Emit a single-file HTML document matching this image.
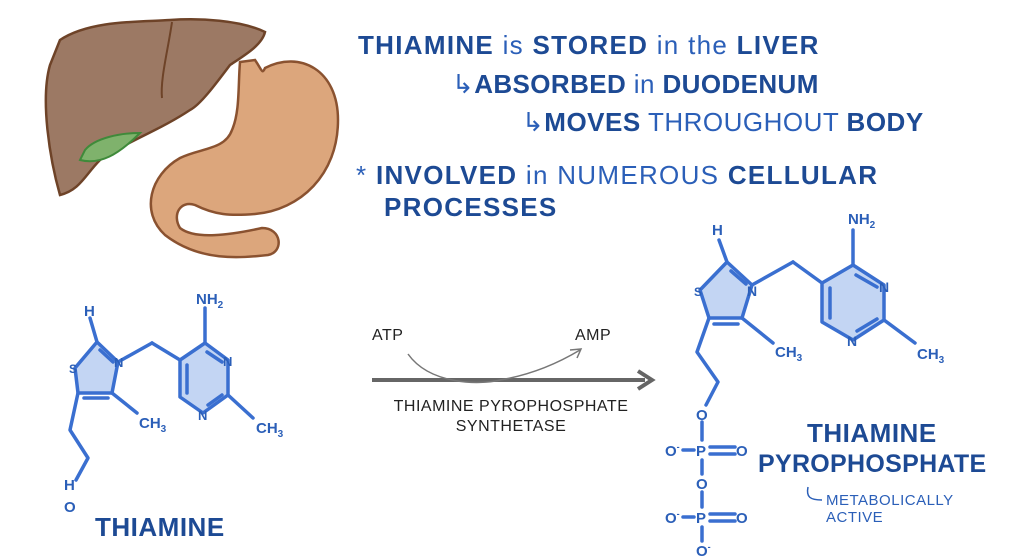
<!DOCTYPE html>
<html><head><meta charset="utf-8"><style>
html,body{margin:0;padding:0;background:#fff;}
body{width:1024px;height:560px;overflow:hidden;position:relative;font-family:"Liberation Sans",sans-serif;}
.t{position:absolute;white-space:nowrap;color:#2b5fb8;font-size:26px;letter-spacing:1.3px;}
.b{font-weight:bold;color:#1d4a94;}
</style></head><body>
<svg width="1024" height="560" style="position:absolute;left:0;top:0">
<path d="M240,62 L255,60 C262,70 262,75 265,68 C300,50 338,70 338,120 C338,175 300,210 255,214 C230,216 215,215 195,205 C180,200 172,215 180,228 C195,240 230,235 262,228 C282,228 284,252 268,255 C240,258 200,262 165,235 C140,212 150,175 180,158 C200,148 225,150 232,130 C240,112 238,85 240,62 Z" fill="#dca67c" stroke="#8a5230" stroke-width="2.5"/>
<path d="M60,40 C90,20 140,22 170,20 C200,18 240,20 265,32 C262,45 245,55 230,65 C215,85 200,105 190,110 C160,130 130,140 100,160 C85,175 80,190 60,195 C50,160 40,100 50,65 Z" fill="#9c7964" stroke="#6e4328" stroke-width="2.5"/>
<path d="M172,22 C168,50 160,80 162,98" fill="none" stroke="#6e4328" stroke-width="2"/>
<path d="M85,150 C95,138 120,133 140,133 C118,155 100,165 80,160 Z" fill="#7fb26c" stroke="#3f8a3a" stroke-width="2"/>
<line x1="372" y1="380" x2="645" y2="380" stroke="#666" stroke-width="4"/>
<path d="M638,371 L652,380 L638,389" fill="none" stroke="#666" stroke-width="4"/>
<path d="M408,354 C430,385 480,385 500,380 C530,375 555,365 580,350" fill="none" stroke="#777" stroke-width="1.5"/>
<path d="M570,350 L581,349 L577,358" fill="none" stroke="#777" stroke-width="1.5"/>
<g stroke="#3a6fd0" stroke-width="3.5" fill="none" stroke-linecap="round" stroke-linejoin="round">
<polygon points="75,368 97,342 118,362 112,393 78,393" fill="#c3d5f3"/>
<polygon points="180,360 205,343 228,360 228,395 203,413 180,397" fill="#c3d5f3"/>
<line x1="97" y1="342" x2="90" y2="318"/>
<line x1="118" y1="362" x2="152" y2="343"/><line x1="152" y1="343" x2="180" y2="360"/>
<line x1="205" y1="343" x2="205" y2="308"/>
<line x1="112" y1="393" x2="137" y2="413"/>
<line x1="228" y1="395" x2="253" y2="418"/>
<polyline points="78,393 70,430 88,458 76,480"/>
<line x1="84" y1="398" x2="108" y2="398"/><line x1="100" y1="350" x2="113" y2="362"/>
<line x1="187" y1="365" x2="187" y2="393"/><line x1="207" y1="352" x2="222" y2="362"/><line x1="208" y1="405" x2="222" y2="395"/>
<polygon points="700,290 727,262 752,285 742,318 709,318" fill="#c3d5f3"/>
<polygon points="822,283 853,265 884,285 884,320 853,340 822,322" fill="#c3d5f3"/>
<line x1="727" y1="262" x2="719" y2="240"/>
<line x1="752" y1="285" x2="793" y2="262"/><line x1="793" y1="262" x2="822" y2="283"/>
<line x1="853" y1="265" x2="853" y2="230"/>
<line x1="742" y1="318" x2="773" y2="343"/>
<line x1="884" y1="320" x2="915" y2="343"/>
<polyline points="709,318 697,352 718,382 706,405"/>
<line x1="714" y1="324" x2="738" y2="324"/><line x1="731" y1="271" x2="746" y2="284"/>
<line x1="830" y1="288" x2="830" y2="318"/><line x1="856" y1="275" x2="877" y2="287"/><line x1="857" y1="331" x2="877" y2="319"/>
<line x1="702" y1="422" x2="702" y2="440"/><line x1="702" y1="460" x2="702" y2="474"/>
<line x1="702" y1="492" x2="702" y2="507"/><line x1="702" y1="527" x2="702" y2="541"/>
<line x1="683" y1="450" x2="694" y2="450"/><line x1="683" y1="517" x2="694" y2="517"/>
<line x1="710" y1="447" x2="735" y2="447"/><line x1="710" y1="454" x2="735" y2="454"/>
<line x1="710" y1="514" x2="735" y2="514"/><line x1="710" y1="521" x2="735" y2="521"/>
</g>
<g font-family="Liberation Sans" font-size="15" fill="#2b5fb8" font-weight="bold">
<text x="84" y="316">H</text><text x="69" y="373" font-size="12">S</text><text x="114" y="367" font-size="13">N</text>
<text x="196" y="304">NH<tspan font-size="10" dy="4">2</tspan></text>
<text x="223" y="366" font-size="13">N</text><text x="198" y="420" font-size="13">N</text>
<text x="139" y="428">CH<tspan font-size="10" dy="4">3</tspan></text>
<text x="256" y="433">CH<tspan font-size="10" dy="4">3</tspan></text>
<text x="64" y="490">H</text><text x="64" y="512">O</text>
<text x="712" y="235">H</text><text x="694" y="296" font-size="12">S</text><text x="747" y="296" font-size="14">N</text>
<text x="848" y="224">NH<tspan font-size="10" dy="4">2</tspan></text>
<text x="879" y="292" font-size="14">N</text><text x="847" y="346" font-size="14">N</text>
<text x="775" y="357">CH<tspan font-size="10" dy="4">3</tspan></text>
<text x="917" y="359">CH<tspan font-size="10" dy="4">3</tspan></text>
<text x="696" y="420">O</text><text x="696" y="456">P</text><text x="736" y="456">O</text><text x="665" y="456">O<tspan font-size="9" dy="-6">-</tspan></text>
<text x="696" y="489">O</text><text x="696" y="523">P</text><text x="736" y="523">O</text><text x="665" y="523">O<tspan font-size="9" dy="-6">-</tspan></text>
<text x="696" y="556">O<tspan font-size="9" dy="-6">-</tspan></text>
</g>
<path d="M808,487 C806,497 810,500 822,500" fill="none" stroke="#2b5fb8" stroke-width="1.5"/>
</svg>
<div class="t" style="left:358px;top:30px"><span class="b">THIAMINE</span> is <span class="b">STORED</span> in the <span class="b">LIVER</span></div>
<div class="t" style="left:452px;top:69px;letter-spacing:0.4px">↳<span class="b">ABSORBED</span> in <span class="b">DUODENUM</span></div>
<div class="t" style="left:522px;top:107px;letter-spacing:0.5px">↳<span class="b">MOVES</span> THROUGHOUT <span class="b">BODY</span></div>
<div class="t" style="left:356px;top:160px">* <span class="b">INVOLVED</span> in NUMEROUS <span class="b">CELLULAR</span></div>
<div class="t" style="left:384px;top:192px"><span class="b">PROCESSES</span></div>
<div class="t b" style="left:95px;top:512px;font-size:26px;letter-spacing:0.5px">THIAMINE</div>
<div class="t b" style="left:807px;top:418px;font-size:26px;letter-spacing:0.5px">THIAMINE</div>
<div class="t b" style="left:758px;top:450px;font-size:25px;letter-spacing:0.3px">PYROPHOSPHATE</div>
<div class="t" style="left:826px;top:492px;font-size:15px;line-height:17px;letter-spacing:0.5px">METABOLICALLY<br>ACTIVE</div>
<div class="t" style="left:372px;top:327px;font-size:16px;color:#222;letter-spacing:0.5px">ATP</div>
<div class="t" style="left:575px;top:327px;font-size:16px;color:#222;letter-spacing:0.5px">AMP</div>
<div class="t" style="left:372px;top:397px;font-size:16px;color:#222;text-align:center;line-height:20px;width:278px;letter-spacing:0.5px">THIAMINE PYROPHOSPHATE<br>SYNTHETASE</div>
</body></html>
